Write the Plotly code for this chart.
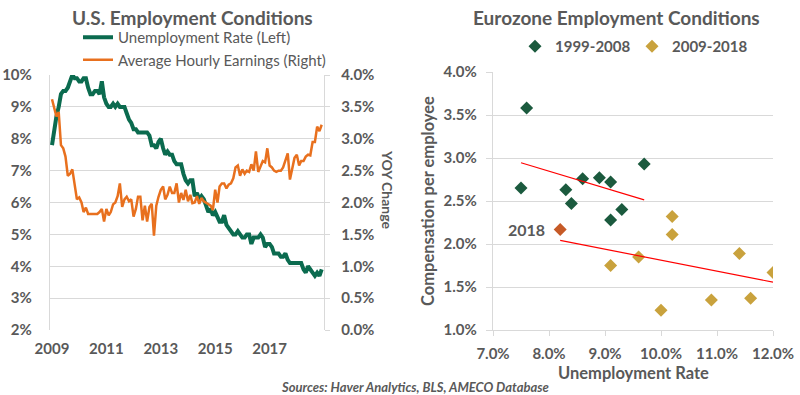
import pandas as pd
import numpy as np
import plotly.graph_objects as go

# ---------------- data ----------------
months = pd.date_range("2009-01-01", periods=120, freq="MS")

unemployment_rate = [
    7.8, 8.3, 8.7, 9.0, 9.4, 9.5, 9.5, 9.6, 9.8, 10.0, 9.9, 9.9,
    9.8, 9.8, 9.9, 9.9, 9.6, 9.4, 9.4, 9.5, 9.5, 9.4, 9.8, 9.3,
    9.1, 9.0, 9.0, 9.1, 9.0, 9.1, 9.0, 9.0, 9.0, 8.8, 8.6, 8.5,
    8.3, 8.3, 8.2, 8.2, 8.2, 8.2, 8.2, 8.1, 7.8, 7.8, 7.7, 7.9,
    8.0, 7.7, 7.5, 7.6, 7.5, 7.5, 7.3, 7.2, 7.2, 7.2, 6.9, 6.7,
    6.6, 6.7, 6.7, 6.2, 6.3, 6.1, 6.2, 6.1, 5.9, 5.7, 5.8, 5.6,
    5.7, 5.5, 5.4, 5.4, 5.6, 5.3, 5.2, 5.1, 5.0, 5.0, 5.1, 5.0,
    4.9, 4.9, 5.0, 5.0, 4.7, 4.9, 4.9, 4.9, 5.0, 4.9, 4.6, 4.7,
    4.7, 4.6, 4.4, 4.4, 4.4, 4.3, 4.3, 4.4, 4.2, 4.1, 4.1, 4.1,
    4.1, 4.1, 4.1, 3.9, 3.8, 4.0, 3.9, 3.8, 3.7, 3.8, 3.7, 3.9,
]

hourly_earnings_yoy = [
    3.62, 3.45, 3.35, 3.42, 2.90, 2.85, 2.72, 2.42, 2.45, 2.52, 2.25, 2.05,
    2.08, 2.00, 1.85, 1.92, 1.82, 1.82, 1.82, 1.82, 1.82, 1.85, 1.90, 1.70,
    1.90, 1.80, 1.85, 1.97, 2.00, 2.10, 2.30, 1.93, 2.05, 2.09, 2.02, 2.05,
    1.78, 1.90, 2.09, 2.09, 1.72, 1.95, 1.70, 1.93, 1.98, 1.48, 1.95, 2.09,
    2.20, 2.25, 2.05, 2.12, 2.25, 2.15, 2.15, 2.30, 2.00, 2.15, 2.04, 2.20,
    2.02, 2.12, 1.99, 2.00, 2.10, 1.98, 2.07, 2.02, 2.00, 1.98, 1.95, 1.88,
    2.20, 2.00, 2.25, 2.30, 2.30, 2.22, 2.28, 2.30, 2.38, 2.55, 2.58, 2.42,
    2.52, 2.45, 2.50, 2.48, 2.60, 2.50, 2.80, 2.48, 2.58, 2.65, 2.63, 2.85,
    2.58, 2.55, 2.50, 2.48, 2.50, 2.50, 2.55, 2.65, 2.77, 2.36, 2.51, 2.70,
    2.75, 2.58, 2.65, 2.65, 2.72, 2.75, 2.74, 2.95, 2.95, 3.19, 3.12, 3.22,
]

us_left_ticks = [2, 3, 4, 5, 6, 7, 8, 9, 10]
us_right_ticks = [0.0, 0.5, 1.0, 1.5, 2.0, 2.5, 3.0, 3.5, 4.0]
us_year_ticks = ["2009", "2011", "2013", "2015", "2017"]

ez_unemp_1999_2008 = [7.6, 7.5, 8.3, 8.4, 8.6, 8.9, 9.1, 9.1, 9.3, 9.7]
ez_comp_1999_2008 = [3.58, 2.65, 2.63, 2.47, 2.76, 2.77, 2.72, 2.28, 2.40, 2.93]
ez_unemp_2009_2017 = [10.2, 10.2, 11.4, 9.6, 9.1, 10.0, 10.9, 11.6, 12.0]
ez_comp_2009_2017 = [2.32, 2.11, 1.89, 1.85, 1.75, 1.23, 1.35, 1.37, 1.67]
ez_unemp_2018 = [8.2]
ez_comp_2018 = [2.17]
ez_label_2018 = "2018"

ez_x_ticks = [7, 8, 9, 10, 11, 12]
ez_y_ticks = [1.0, 1.5, 2.0, 2.5, 3.0, 3.5, 4.0]

# ---------------- style ----------------
FONT = "Lato"
GREY = "#595959"
GRID = "#d9d9d9"
GREEN_LINE = "#0b6b4f"
ORANGE_LINE = "#e8701e"
GREEN_MK = "#1b5a3e"
GOLD_MK = "#c9a23d"
RED_MK = "#c65a27"

W, H = 800, 395


def fx(px):
    return px / W


def fy(py):
    return 1 - py / H


fig = go.Figure()

# ---- left chart (US) ----
fig.add_trace(go.Scatter(
    x=months, y=unemployment_rate, name="Unemployment Rate (Left)",
    mode="lines", line=dict(color=GREEN_LINE, width=4),
    xaxis="x", yaxis="y", legend="legend"))
fig.add_trace(go.Scatter(
    x=months, y=hourly_earnings_yoy, name="Average Hourly Earnings (Right)",
    mode="lines", line=dict(color=ORANGE_LINE, width=2.5),
    xaxis="x", yaxis="y2", legend="legend"))

# ---- right chart (Eurozone) ----
fig.add_trace(go.Scatter(
    x=ez_unemp_1999_2008, y=ez_comp_1999_2008, name="1999-2008",
    mode="markers", marker=dict(symbol="diamond", size=10, color=GREEN_MK),
    xaxis="x3", yaxis="y3", legend="legend2"))
fig.add_trace(go.Scatter(
    x=ez_unemp_2009_2017, y=ez_comp_2009_2017, name="2009-2018",
    mode="markers", marker=dict(symbol="diamond", size=10, color=GOLD_MK),
    xaxis="x3", yaxis="y3", legend="legend2"))
fig.add_trace(go.Scatter(
    x=ez_unemp_2018, y=ez_comp_2018, name="2018",
    mode="markers", marker=dict(symbol="diamond", size=10, color=RED_MK),
    xaxis="x3", yaxis="y3", showlegend=False))

# trend lines (least squares)
x1 = np.array(ez_unemp_1999_2008)
y1 = np.array(ez_comp_1999_2008)
k1, b1 = np.polyfit(x1, y1, 1)
tx1 = np.array([x1.min(), x1.max()])
fig.add_trace(go.Scatter(x=tx1, y=k1 * tx1 + b1, mode="lines",
                         line=dict(color="#ff0000", width=1.2),
                         xaxis="x3", yaxis="y3", showlegend=False, hoverinfo="skip"))
x2 = np.array(ez_unemp_2009_2017 + ez_unemp_2018)
y2 = np.array(ez_comp_2009_2017 + ez_comp_2018)
k2, b2 = np.polyfit(x2, y2, 1)
tx2 = np.array([x2.min(), x2.max()])
fig.add_trace(go.Scatter(x=tx2, y=k2 * tx2 + b2, mode="lines",
                         line=dict(color="#ff0000", width=1.2),
                         xaxis="x3", yaxis="y3", showlegend=False, hoverinfo="skip"))

tick_font = dict(family=FONT, size=15, color=GREY, weight="bold")

fig.update_layout(
    width=W, height=H,
    margin=dict(l=0, r=0, t=0, b=0, autoexpand=False),
    paper_bgcolor="white", plot_bgcolor="white",
    font=dict(family=FONT, color=GREY),
    xaxis=dict(
        domain=[fx(50), fx(324)], anchor="y",
        type="date", range=["2008-12-05", "2019-01-01"],
        tickvals=[f"{y}-01-01" for y in us_year_ticks], ticktext=us_year_ticks,
        showgrid=False, showline=False, zeroline=False, automargin=False,
        ticks="", tickfont=tick_font, ticklabelstandoff=8,
    ),
    yaxis=dict(
        domain=[fy(330), fy(75)], anchor="x",
        range=[2, 10], tickvals=us_left_ticks,
        ticktext=[f"{v}%" for v in us_left_ticks],
        showgrid=True, gridcolor=GRID, gridwidth=1.3,
        showline=True, linecolor=GRID, linewidth=1.3, automargin=False,
        zeroline=False, ticks="", tickfont=tick_font, ticklabelstandoff=14,
    ),
    yaxis2=dict(
        overlaying="y", side="right", anchor="x",
        range=[0, 4], tickvals=us_right_ticks,
        ticktext=[f"{v:.1f}%" for v in us_right_ticks],
        showgrid=False, showline=True, linecolor=GRID, linewidth=1.3,
        zeroline=False, ticks="outside", ticklen=5, tickcolor=GRID, tickwidth=1.3,
        tickfont=tick_font, ticklabelstandoff=8, automargin=False,
    ),
    xaxis3=dict(
        domain=[fx(493), fx(773)], anchor="y3",
        range=[7, 12], tickvals=ez_x_ticks,
        ticktext=[f"{v:.1f}%" for v in ez_x_ticks],
        showgrid=False, showline=True, linecolor=GRID, linewidth=1.3,
        zeroline=False, ticks="outside", ticklen=5, tickcolor=GRID, tickwidth=1.3,
        tickfont=tick_font, ticklabelstandoff=5, automargin=False,
    ),
    yaxis3=dict(
        domain=[fy(330), fy(72)], anchor="x3",
        range=[1, 4], tickvals=ez_y_ticks,
        ticktext=[f"{v:.1f}%" for v in ez_y_ticks],
        showgrid=True, gridcolor=GRID, gridwidth=1.3,
        showline=True, linecolor=GRID, linewidth=1.3, automargin=False,
        zeroline=False, ticks="outside", ticklen=6, tickcolor=GRID, tickwidth=1.3,
        tickfont=tick_font, ticklabelstandoff=6,
        title=dict(text="Compensation per employee", standoff=4,
                   font=dict(family=FONT, size=16.5, color=GREY, weight="bold")),
    ),
    legend=dict(
        x=fx(78), y=fy(21), xanchor="left", yanchor="top",
        orientation="v", bgcolor="rgba(0,0,0,0)",
        font=dict(family=FONT, size=15, color=GREY), tracegroupgap=0,
        itemwidth=30,
    ),
    legend2=dict(
        x=fx(515), y=fy(30), xanchor="left", yanchor="top",
        orientation="h", bgcolor="rgba(0,0,0,0)",
        font=dict(family=FONT, size=15, color=GREY, weight="bold"),
        itemwidth=30, entrywidth=72, entrywidthmode="pixels",
    ),
    annotations=[
        dict(text="U.S. Employment Conditions", x=fx(192), y=fy(17),
             xanchor="center", yanchor="middle",
             xref="paper", yref="paper", showarrow=False,
             font=dict(family=FONT, size=19, color=GREY, weight="bold")),
        dict(text="Eurozone Employment Conditions", x=fx(616), y=fy(17),
             xanchor="center", yanchor="middle",
             xref="paper", yref="paper", showarrow=False,
             font=dict(family=FONT, size=19, color=GREY, weight="bold")),
        dict(text="YOY Change", x=fx(388), y=fy(190), textangle=90,
             xanchor="center", yanchor="middle",
             xref="paper", yref="paper", showarrow=False,
             font=dict(family=FONT, size=14, color=GREY, weight="bold")),
        dict(text="Unemployment Rate", x=fx(633), y=fy(373),
             xanchor="center", yanchor="middle",
             xref="paper", yref="paper", showarrow=False,
             font=dict(family=FONT, size=16.5, color=GREY, weight="bold")),
        dict(text="<i>Sources: Haver Analytics, BLS, AMECO Database</i>",
             x=fx(415), y=fy(387), xanchor="center", yanchor="middle",
             xref="paper", yref="paper", showarrow=False,
             font=dict(family=FONT, size=13, color=GREY, weight="bold")),
        dict(text=ez_label_2018, x=ez_unemp_2018[0], y=ez_comp_2018[0],
             xref="x3", yref="y3", xanchor="right", yanchor="middle",
             xshift=-13, showarrow=False,
             font=dict(family=FONT, size=16, color=GREY, weight="bold")),
    ],
)

fig.write_html("out.html", config={"displayModeBar": False},
               post_script="document.body.style.margin='0px';")
